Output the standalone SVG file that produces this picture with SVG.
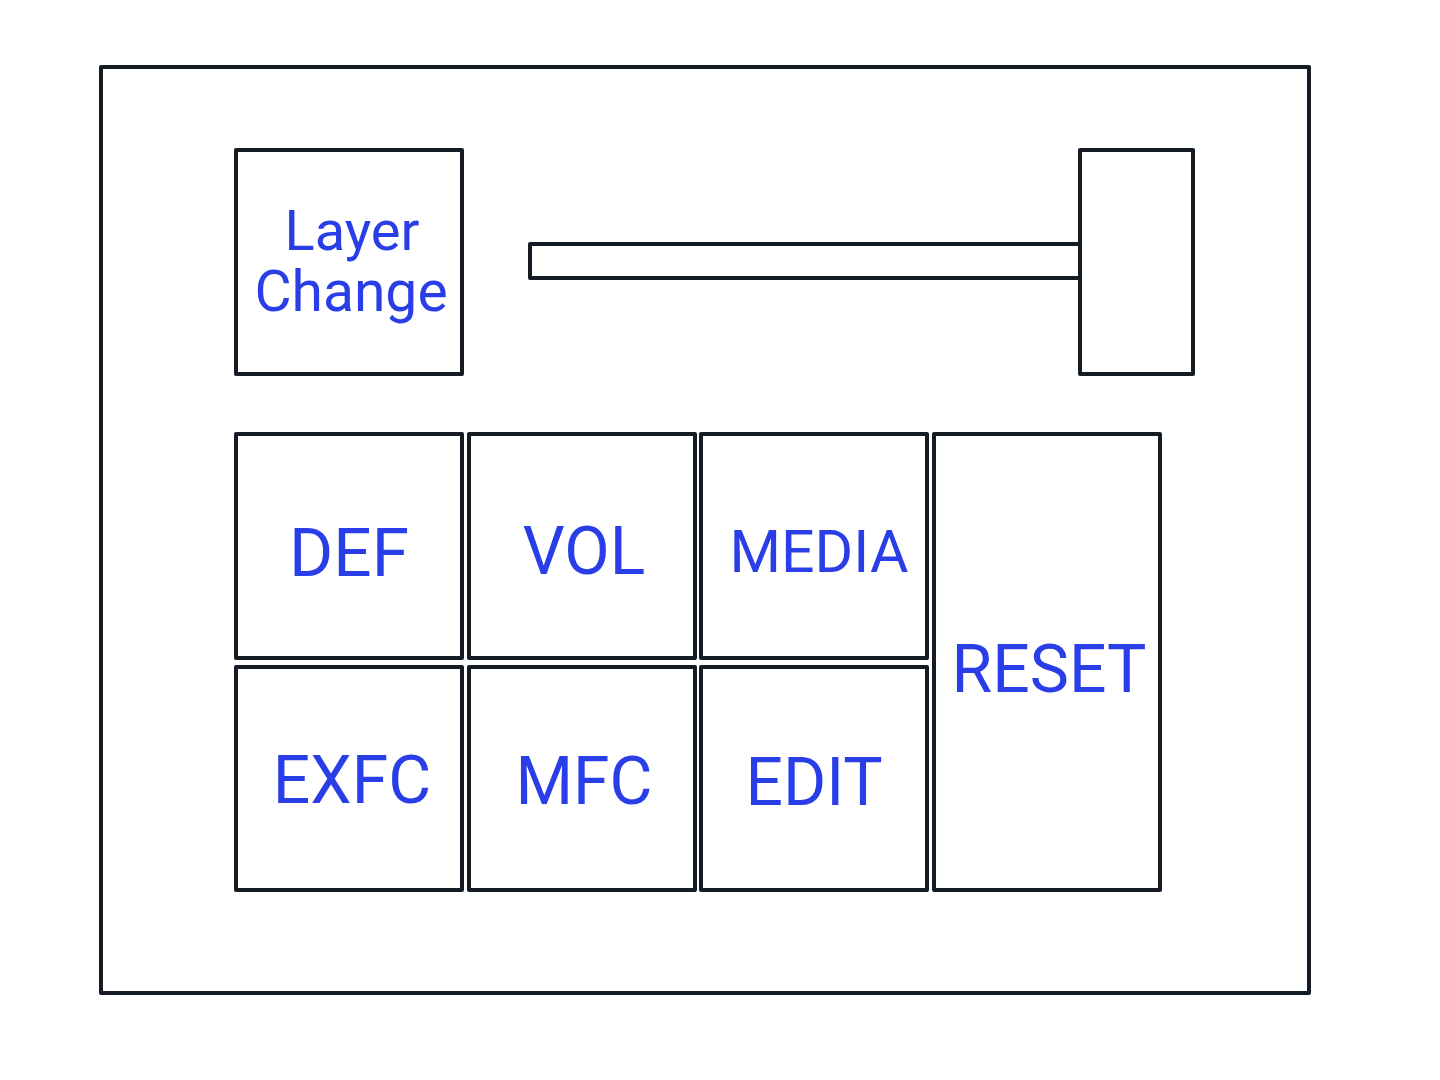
<svg xmlns="http://www.w3.org/2000/svg" width="1440" height="1080" viewBox="0 0 1440 1080">
<style>
.b{fill:#ffffff;stroke:#161c24;stroke-width:4;stroke-linejoin:round}
.t{font-family:Roboto,"Liberation Sans",sans-serif;fill:#2a3ee8;text-anchor:middle}
.big{font-size:66px}
</style>
<rect width="1440" height="1080" fill="#ffffff"/>
<g id="frame"><rect class="b" x="101" y="67" width="1208" height="926"/></g>
<g id="layer-change"><rect class="b" x="236" y="150" width="226" height="224"/>
<text class="t" x="352" y="250" font-size="56">Layer</text>
<text class="t" x="351" y="311" font-size="57">Change</text></g>
<g id="slider-track"><rect class="b" x="530" y="244" width="550" height="34"/></g>
<g id="slider-knob"><rect class="b" x="1080" y="150" width="113" height="224"/></g>
<g id="def"><rect class="b" x="236" y="434" width="226" height="224"/><text class="t big" x="349" y="576" textLength="120" lengthAdjust="spacingAndGlyphs">DEF</text></g>
<g id="vol"><rect class="b" x="469" y="434" width="226" height="224"/><text class="t big" x="584" y="574">VOL</text></g>
<g id="media"><rect class="b" x="701" y="434" width="226" height="224"/><text class="t" x="819" y="572" font-size="59">MEDIA</text></g>
<g id="reset"><rect class="b" x="934" y="434" width="226" height="456"/><text class="t big" x="1049" y="692">RESET</text></g>
<g id="exfc"><rect class="b" x="236" y="667" width="226" height="223"/><text class="t big" x="352" y="803">EXFC</text></g>
<g id="mfc"><rect class="b" x="469" y="667" width="226" height="223"/><text class="t big" x="584" y="804">MFC</text></g>
<g id="edit"><rect class="b" x="701" y="667" width="226" height="223"/><text class="t big" x="814" y="805">EDIT</text></g>
<g id="connectors"></g>
</svg>
